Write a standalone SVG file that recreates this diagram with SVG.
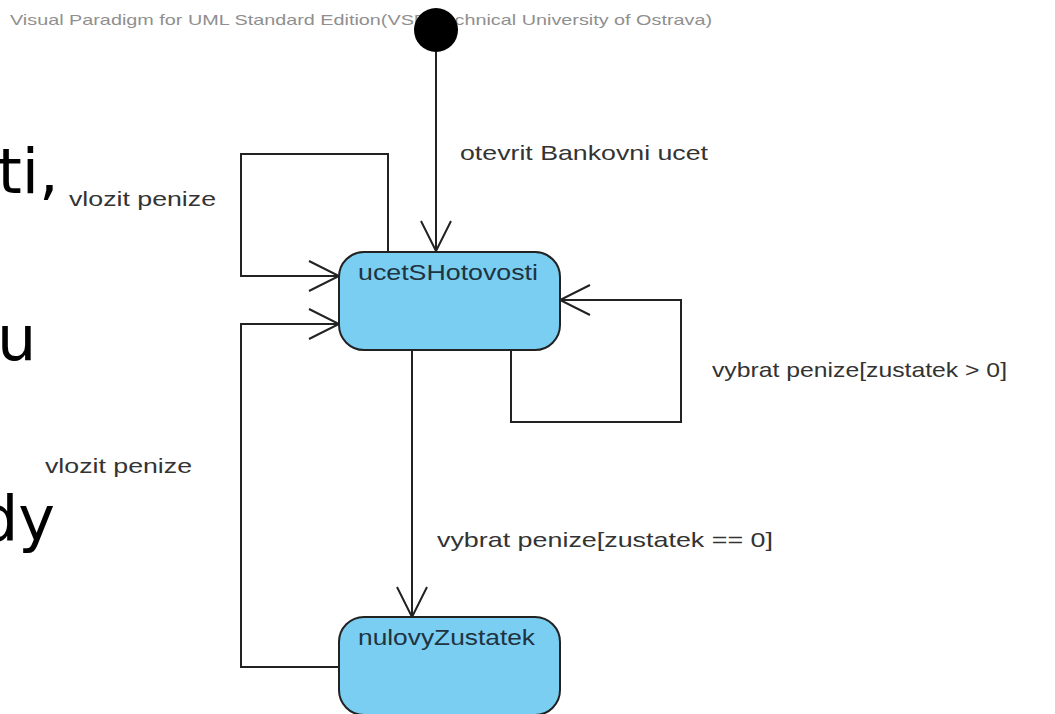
<svg xmlns="http://www.w3.org/2000/svg" width="1055" height="714" viewBox="0 0 1055 714">
<style>
.big{font-family:"DejaVu Sans",sans-serif;font-size:62px;fill:#000}
.lbl{font-family:"Liberation Sans",Arial,sans-serif;font-size:21px;fill:#333}
.wm{font-family:"Liberation Sans",Arial,sans-serif;font-size:15px;fill:#8f8f8f}
.node rect{fill:#79cef2;stroke:#222;stroke-width:2}
.ntxt{font-family:"Liberation Sans",Arial,sans-serif;font-size:22px;fill:#1f3340}
.conn path{fill:none;stroke:#222;stroke-width:2}
</style>
<defs>
<marker id="arr" viewBox="-32 -16 34 32" markerWidth="34" markerHeight="32" refX="0" refY="0" orient="auto" markerUnits="userSpaceOnUse" overflow="visible">
<path d="M-30,-15 L0,0 L-30,15" fill="none" stroke="#222" stroke-width="2"/>
</marker>
</defs>
<rect width="1055" height="714" fill="#fff"/>
<text class="big" x="-2.5" y="193">ti,</text>
<text class="big" x="-3" y="360">u</text>
<text class="big" x="-21" y="540">dy</text>
<text class="wm" x="10" y="25" textLength="702" lengthAdjust="spacingAndGlyphs">Visual Paradigm for UML Standard Edition(VSB-Technical University of Ostrava)</text>
<g id="initial"><circle cx="436" cy="30" r="22" fill="#000"/></g>
<g class="conn" id="connectors">
<path d="M436,52 L436,251" marker-end="url(#arr)"/>
<path d="M388,251 L388,154 L241,154 L241,276 L339,276" marker-end="url(#arr)"/>
<path d="M339,667 L241,667 L241,324 L339,324" marker-end="url(#arr)"/>
<path d="M511,350 L511,422 L681,422 L681,300 L560,300" marker-end="url(#arr)"/>
<path d="M412,350 L412,617" marker-end="url(#arr)"/>
</g>
<g id="labels">
<text class="lbl" x="460" y="160" textLength="248" lengthAdjust="spacingAndGlyphs">otevrit Bankovni ucet</text>
<text class="lbl" x="69" y="206" textLength="147" lengthAdjust="spacingAndGlyphs">vlozit penize</text>
<text class="lbl" x="712" y="377" textLength="295" lengthAdjust="spacingAndGlyphs">vybrat penize[zustatek &gt; 0]</text>
<text class="lbl" x="45" y="473" textLength="147" lengthAdjust="spacingAndGlyphs">vlozit penize</text>
<text class="lbl" x="437" y="547" textLength="336" lengthAdjust="spacingAndGlyphs">vybrat penize[zustatek == 0]</text>
</g>
<g id="ucetSHotovosti" class="node">
<rect x="339" y="252" width="221" height="98" rx="25" ry="25"/>
<text class="ntxt" x="358" y="280" textLength="180" lengthAdjust="spacingAndGlyphs">ucetSHotovosti</text>
</g>
<g id="nulovyZustatek" class="node">
<rect x="339" y="617" width="221" height="98" rx="25" ry="25"/>
<text class="ntxt" x="358" y="645" textLength="177" lengthAdjust="spacingAndGlyphs">nulovyZustatek</text>
</g>
</svg>
